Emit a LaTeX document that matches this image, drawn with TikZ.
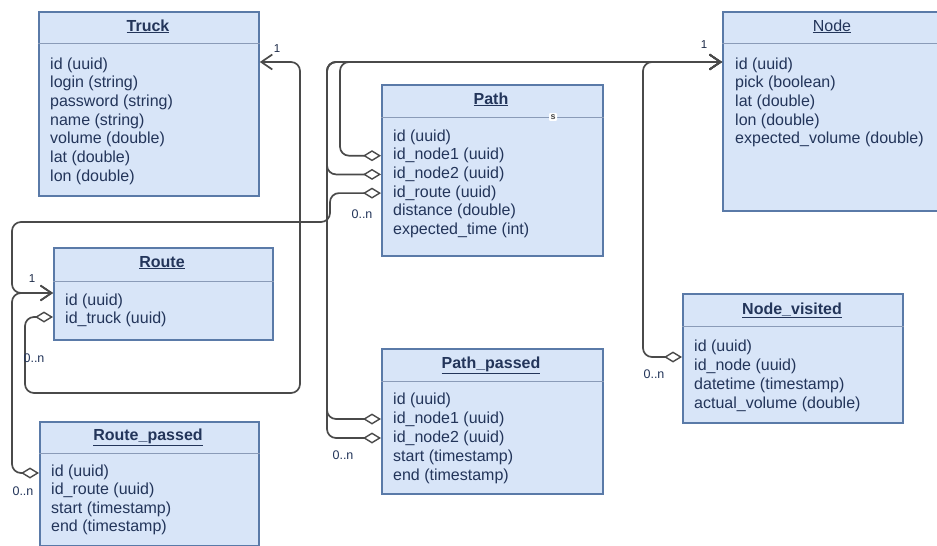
\documentclass[tikz,border=0pt]{standalone}
\usepackage{fontspec}
\setmainfont{Liberation Sans}
\usetikzlibrary{arrows.meta,shadows}
\definecolor{boxfill}{HTML}{D8E5F8}
\definecolor{boxdraw}{HTML}{5A7AA8}
\definecolor{txt}{HTML}{23355A}
\definecolor{lnk}{HTML}{4A4A4A}
\definecolor{sepc}{HTML}{8A9BB8}
\tikzset{
  umlbox/.style={draw=boxdraw, line width=1.8pt, fill=boxfill, rectangle, inner sep=0pt, anchor=north west,
    drop shadow={shadow xshift=1.5pt, shadow yshift=-1.5pt, opacity=0.35}},
  attr/.style={anchor=west, inner sep=0pt, text=txt, font=\fontsize{16}{19}\selectfont, text height=11.5pt, text depth=3.5pt},
  ttl/.style={inner sep=0pt, text=txt, font=\fontsize{16}{19}\selectfont\bfseries, text height=11.5pt, text depth=3.5pt},
  ttlthin/.style={ttl, font=\fontsize{16}{19}\selectfont},
  sepline/.style={draw=sepc, line width=1pt},
  conn/.style={draw=lnk, line width=1.7pt, rounded corners=9pt},
  agg/.style={conn, {Diamond[fill=white, length=18pt, width=11pt, line width=1.4pt]}-{Straight Barb[length=11pt, width=15pt, line width=1.7pt]}},
  mult/.style={text=txt, font=\fontsize{12.5}{14}\selectfont, inner sep=0pt},
  one/.style={text=txt!80!black, font=\fontsize{11.5}{13}\selectfont, inner sep=0pt},
  smark/.style={fill=white, inner sep=1.5pt, rounded corners=1pt, text=black!70, font=\fontsize{9}{9}\selectfont\bfseries}
}
\begin{document}
\begin{tikzpicture}[x=1pt,y=-1pt]
\useasboundingbox (0,0) rectangle (937,546);
\clip (0,0) rectangle (937,546);
\fill[white] (0,0) rectangle (937,546);

% ---- boxes ----
\node[umlbox, minimum width=220pt, minimum height=184pt] (truck) at (38,11) {};
\node[umlbox, minimum width=221pt, minimum height=171pt] (path) at (381,84) {};
\node[umlbox, minimum width=220pt, minimum height=199pt] (node) at (722,11) {};
\node[umlbox, minimum width=219pt, minimum height=92pt] (route) at (53,247) {};
\node[umlbox, minimum width=219pt, minimum height=124pt] (rp) at (39,421) {};
\node[umlbox, minimum width=221pt, minimum height=145pt] (pp) at (381,348) {};
\node[umlbox, minimum width=220pt, minimum height=129pt] (nv) at (682,293) {};

% ---- separators ----
\draw[sepline] (truck.west |- 0,43) -- (truck.east |- 0,43);
\draw[sepline] (path.west |- 0,117) -- (path.east |- 0,117);
\draw[sepline] (node.west |- 0,43) -- (node.east |- 0,43);
\draw[sepline] (route.west |- 0,281) -- (route.east |- 0,281);
\draw[sepline] (rp.west |- 0,453) -- (rp.east |- 0,453);
\draw[sepline] (pp.west |- 0,381) -- (pp.east |- 0,381);
\draw[sepline] (nv.west |- 0,326) -- (nv.east |- 0,326);

% ---- titles ----
\node[ttl] (truckT) at (148,27) {\underline{Truck}};
\node[ttl] (pathT) at (491,100) {\underline{Path}};
\node[ttlthin] (nodeT) at (832,27) {\underline{Node}};
\node[ttl] (routeT) at (162,263) {\underline{Route}};
\node[ttl] (rpT) at (148,436) {\underline{Route\_passed}};
\node[ttl] (ppT) at (491,364) {\underline{Path\_passed}};
\node[ttl] (nvT) at (792,310) {\underline{Node\_visited}};
\node[smark] (pathS) at (553,117) {s};

% ---- attributes ----
\foreach \t [count=\i] in {id (uuid), login (string), password (string), name (string), volume (double), lat (double), lon (double)}
  \node[attr] (truck-\i) at (50,{65+18.7*(\i-1)}) {\t};
\foreach \t [count=\i] in {id (uuid), id\_node1 (uuid), id\_node2 (uuid), id\_route (uuid), distance (double), expected\_time (int)}
  \node[attr] (path-\i) at (393,{137+18.7*(\i-1)}) {\t};
\foreach \t [count=\i] in {id (uuid), pick (boolean), lat (double), lon (double), expected\_volume (double)}
  \node[attr] (node-\i) at (735,{65+18.7*(\i-1)}) {\t};
\foreach \t [count=\i] in {id (uuid), id\_truck (uuid)}
  \node[attr] (route-\i) at (65,{301+18*(\i-1)}) {\t};
\foreach \t [count=\i] in {id (uuid), id\_route (uuid), start (timestamp), end (timestamp)}
  \node[attr] (rp-\i) at (51,{472+18.5*(\i-1)}) {\t};
\foreach \t [count=\i] in {id (uuid), id\_node1 (uuid), id\_node2 (uuid), start (timestamp), end (timestamp)}
  \node[attr] (pp-\i) at (393,{400+19*(\i-1)}) {\t};
\foreach \t [count=\i] in {id (uuid), id\_node (uuid), datetime (timestamp), actual\_volume (double)}
  \node[attr] (nv-\i) at (694,{347+19*(\i-1)}) {\t};

% ---- routing points ----
\coordinate (bus) at (327,62);
\coordinate (bus2) at (340,62);
\coordinate (bus3) at (643,62);
\coordinate (tloop1) at (25,393);
\coordinate (tloop2) at (300,62);
\coordinate (rloop1) at (330,222);
\coordinate (rloop2) at (12,293);
\coordinate (nvd) at (nv.west |- 0,357);
\coordinate (rpd) at (rp.west |- 0,473);
\coordinate (rtd) at (route.west |- 0,317);

% ---- connectors ----
\draw[agg] (path.west |- path-2) -| (bus2) -- (node.west |- bus2);
\draw[agg] (path.west |- path-3) -| (bus) -- (node.west |- bus);
\draw[agg] (pp.west |- pp-2) -| (bus) -- (node.west |- bus);
\draw[agg] (pp.west |- pp-3) -| (bus) -- (node.west |- bus);
\draw[agg] (nvd) -| (bus3) -- (node.west |- bus3);
\draw[agg] (rtd) -| (tloop1) -| (tloop2) -- (truck.east |- tloop2);
\draw[agg] (path.west |- path-4) -| (rloop1) -| (rloop2) -- (route.west |- rloop2);
\draw[agg] (rpd) -| (rloop2) -- (route.west |- rloop2);

% ---- multiplicities ----
\node[one] (m1) at (277,49) {1};
\node[mult] (m2) at (34,358) {0..n};
\node[one] (m3) at (32,279) {1};
\node[mult] (m4) at (362,214) {0..n};
\node[mult] (m5) at (23,491) {0..n};
\node[mult] (m6) at (343,455) {0..n};
\node[one] (m7) at (704,45) {1};
\node[mult] (m8) at (654,374) {0..n};
\end{tikzpicture}
\end{document}
